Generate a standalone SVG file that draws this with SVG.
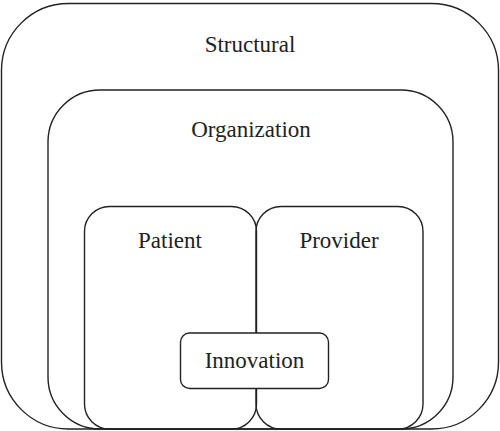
<svg xmlns="http://www.w3.org/2000/svg" width="500" height="431" viewBox="0 0 500 431">
<style>
.box{fill:none;stroke:#222;stroke-width:1.4}
.lbl{font-family:'Liberation Serif', serif;font-size:23px;fill:#222;text-anchor:middle}
</style>
<rect width="500" height="431" fill="#fff"/>
<g id="structural">
<rect class="box" x="1.5" y="3.5" width="497" height="425.5" rx="67" ry="67"/>
<text class="lbl" x="250" y="52">Structural</text>
</g>
<g id="organization">
<rect class="box" x="48" y="90" width="405" height="339" rx="52" ry="52"/>
<text class="lbl" x="251" y="137">Organization</text>
</g>
<g id="patient">
<rect class="box" x="84.5" y="206.5" width="172" height="222.5" rx="25" ry="25"/>
<text class="lbl" x="170" y="248">Patient</text>
</g>
<g id="provider">
<rect class="box" x="256" y="206.5" width="167" height="222.5" rx="25" ry="25"/>
<text class="lbl" x="339" y="248">Provider</text>
</g>
<g id="innovation">
<rect x="180.5" y="333" width="148" height="55.5" rx="9" ry="9" fill="#fff" stroke="#222" stroke-width="1.4"/>
<text class="lbl" x="254.5" y="368">Innovation</text>
</g>
<g id="connectors"></g>
</svg>
